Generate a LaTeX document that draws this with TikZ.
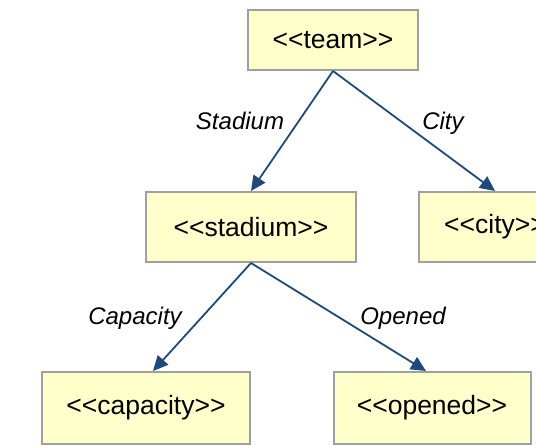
\documentclass[tikz,border=0pt]{standalone}
\usepackage{fontspec}
\setmainfont{Liberation Sans}
\usetikzlibrary{arrows.meta}
\newcommand\stereo[1]{<\kern0pt<#1>\kern0pt>}
\definecolor{boxfill}{RGB}{255,255,204}
\definecolor{boxline}{RGB}{160,160,160}
\definecolor{linkblue}{RGB}{31,73,125}
\tikzset{
  typebox/.style={draw=boxline,fill=boxfill,line width=2pt,minimum height=70pt,
    font=\fontsize{26.5}{30}\selectfont},
  link/.style={draw=linkblue,line width=1.8pt,-{Triangle[length=15pt,width=14pt]}},
  linklabel/.style={font=\fontsize{24}{28}\selectfont\itshape,anchor=base}
}
\begin{document}
\begin{tikzpicture}[x=1pt,y=-1pt]
    \useasboundingbox (0,0) rectangle (536,446);
    \clip (0,0) rectangle (536,446);
    \node[typebox,minimum width=170pt,minimum height=60pt] (team) at (333,40) {\stereo{team}};
    \node[typebox,minimum width=210pt] (stadium) at (251,227) {\stereo{stadium}};
    \node[typebox,minimum width=152pt] (city) at (495,227) {\stereo{city}};
    \node[typebox,minimum width=208pt,minimum height=72pt] (capacity) at (146,408) {\stereo{capacity}};
    \node[typebox,minimum width=197pt,minimum height=72pt] (opened) at (432,408) {\stereo{opened}};
    \draw[link] (team.south) -- (stadium.north);
    \draw[link] (team.south) -- (city.north);
    \draw[link] (stadium.south) -- ([xshift=7pt]capacity.north);
    \draw[link] (stadium.south) -- ([xshift=-6pt]opened.north);
    \node[linklabel] (lblstadium) at (240,130) {Stadium};
    \node[linklabel] (lblcity) at (443,130) {City};
    \node[linklabel] (lblcapacity) at (135,325) {Capacity};
    \node[linklabel] (lblopened) at (403,325) {Opened};
\end{tikzpicture}
\end{document}
